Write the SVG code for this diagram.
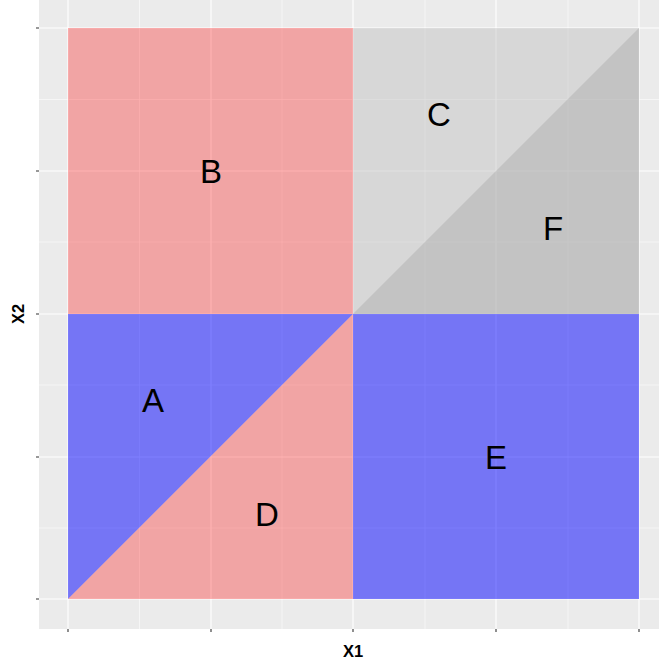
<svg xmlns="http://www.w3.org/2000/svg" width="659" height="666" viewBox="0 0 659 666">
<style>
.major{stroke:#ffffff;stroke-width:1.1;fill:none}
.minor{stroke:#ffffff;stroke-width:0.55;fill:none}
.tick{stroke:#333333;stroke-width:1.1}
.lbl{font-family:"Liberation Sans",Arial,sans-serif;font-size:33px;fill:#000;text-anchor:middle}
.axt{font-family:"Liberation Sans",Arial,sans-serif;font-size:16.5px;font-weight:bold;fill:#000;text-anchor:middle}
</style>
<rect width="659" height="666" fill="#ffffff"/>
<rect x="39" y="0" width="620" height="629" fill="#EBEBEB"/>
<g id="grid">
<path class="minor" d="M139.5 0V629M282 0V629M425 0V629M568 0V629M39 99.5H659M39 242H659M39 385H659M39 528H659"/>
<path class="major" d="M68 0V629M211 0V629M353 0V629M496 0V629M639 0V629M39 28H659M39 171H659M39 314H659M39 457H659M39 599H659"/>
</g>
<g id="regions">
<g id="B"><rect x="68" y="28" width="285" height="286" fill="#ff0000" fill-opacity="0.3"/><text class="lbl" x="211" y="183">B</text></g>
<g id="CF"><rect x="353" y="28" width="286" height="286" fill="#BEBEBE" fill-opacity="0.45"/></g>
<g id="F"><polygon points="639,28 639,314 353,314" fill="#999999" fill-opacity="0.32"/><text class="lbl" x="553" y="240">F</text></g>
<g id="C"><text class="lbl" x="439" y="126">C</text></g>
<g id="A"><polygon points="68,314 353,314 68,599" fill="#0000ff" fill-opacity="0.5"/><text class="lbl" x="153" y="412">A</text></g>
<g id="D"><polygon points="353,314 353,599 68,599" fill="#ff0000" fill-opacity="0.3"/><text class="lbl" x="267" y="526">D</text></g>
<g id="E"><rect x="353" y="314" width="286" height="285" fill="#0000ff" fill-opacity="0.5"/><text class="lbl" x="496" y="469">E</text></g>
</g>
<g id="axes">
<path class="tick" d="M36 28H39M36 171H39M36 314H39M36 457H39M36 599H39M68 629V632M211 629V632M353 629V632M496 629V632M639 629V632"/>
<text class="axt" x="353" y="657">X1</text>
<text class="axt" transform="translate(24,314) rotate(-90)" x="0" y="0">X2</text>
</g>
</svg>
